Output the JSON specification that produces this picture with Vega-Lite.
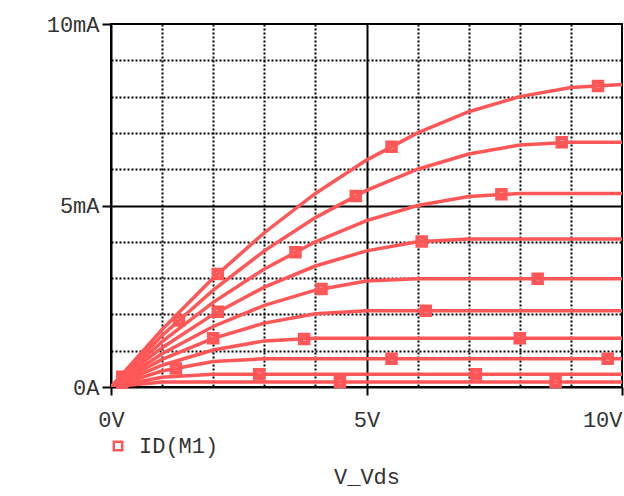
{
  "$schema": "https://vega.github.io/schema/vega-lite/v6.json",
  "width": 511,
  "height": 363,
  "autosize": {"type": "none"},
  "padding": {"left": 111, "top": 24, "right": 2, "bottom": 109},
  "background": "white",
  "config": {
    "view": {"stroke": "black", "strokeWidth": 2},
    "font": "Liberation Mono"
  },
  "datasets": {
    "curves": [
      {"vgs": 10, "vds": 0, "id": 0}, {"vgs": 10, "vds": 1, "id": 1.583}, {"vgs": 10, "vds": 2, "id": 3.0}, {"vgs": 10, "vds": 3, "id": 4.25}, {"vgs": 10, "vds": 4, "id": 5.333}, {"vgs": 10, "vds": 5, "id": 6.25}, {"vgs": 10, "vds": 6, "id": 7.0}, {"vgs": 10, "vds": 7, "id": 7.583}, {"vgs": 10, "vds": 8, "id": 8.0}, {"vgs": 10, "vds": 9, "id": 8.25}, {"vgs": 10, "vds": 10, "id": 8.33},
      {"vgs": 9, "vds": 0, "id": 0}, {"vgs": 9, "vds": 1, "id": 1.417}, {"vgs": 9, "vds": 2, "id": 2.667}, {"vgs": 9, "vds": 3, "id": 3.75}, {"vgs": 9, "vds": 4, "id": 4.667}, {"vgs": 9, "vds": 5, "id": 5.417}, {"vgs": 9, "vds": 6, "id": 6.0}, {"vgs": 9, "vds": 7, "id": 6.417}, {"vgs": 9, "vds": 8, "id": 6.667}, {"vgs": 9, "vds": 9, "id": 6.74}, {"vgs": 9, "vds": 10, "id": 6.74},
      {"vgs": 8, "vds": 0, "id": 0}, {"vgs": 8, "vds": 1, "id": 1.25}, {"vgs": 8, "vds": 2, "id": 2.333}, {"vgs": 8, "vds": 3, "id": 3.25}, {"vgs": 8, "vds": 4, "id": 4.0}, {"vgs": 8, "vds": 5, "id": 4.583}, {"vgs": 8, "vds": 6, "id": 5.0}, {"vgs": 8, "vds": 7, "id": 5.25}, {"vgs": 8, "vds": 8, "id": 5.33}, {"vgs": 8, "vds": 10, "id": 5.33},
      {"vgs": 7, "vds": 0, "id": 0}, {"vgs": 7, "vds": 1, "id": 1.083}, {"vgs": 7, "vds": 2, "id": 2.0}, {"vgs": 7, "vds": 3, "id": 2.75}, {"vgs": 7, "vds": 4, "id": 3.333}, {"vgs": 7, "vds": 5, "id": 3.75}, {"vgs": 7, "vds": 6, "id": 4.0}, {"vgs": 7, "vds": 7, "id": 4.08}, {"vgs": 7, "vds": 10, "id": 4.08},
      {"vgs": 6, "vds": 0, "id": 0}, {"vgs": 6, "vds": 1, "id": 0.917}, {"vgs": 6, "vds": 2, "id": 1.667}, {"vgs": 6, "vds": 3, "id": 2.25}, {"vgs": 6, "vds": 4, "id": 2.667}, {"vgs": 6, "vds": 5, "id": 2.917}, {"vgs": 6, "vds": 6, "id": 2.98}, {"vgs": 6, "vds": 10, "id": 2.98},
      {"vgs": 5, "vds": 0, "id": 0}, {"vgs": 5, "vds": 1, "id": 0.76}, {"vgs": 5, "vds": 2, "id": 1.34}, {"vgs": 5, "vds": 3, "id": 1.76}, {"vgs": 5, "vds": 4, "id": 2.02}, {"vgs": 5, "vds": 5, "id": 2.1}, {"vgs": 5, "vds": 10, "id": 2.1},
      {"vgs": 4, "vds": 0, "id": 0}, {"vgs": 4, "vds": 1, "id": 0.6}, {"vgs": 4, "vds": 2, "id": 1.02}, {"vgs": 4, "vds": 3, "id": 1.27}, {"vgs": 4, "vds": 4, "id": 1.34}, {"vgs": 4, "vds": 10, "id": 1.34},
      {"vgs": 3, "vds": 0, "id": 0}, {"vgs": 3, "vds": 1, "id": 0.44}, {"vgs": 3, "vds": 2, "id": 0.7}, {"vgs": 3, "vds": 3, "id": 0.78}, {"vgs": 3, "vds": 10, "id": 0.78},
      {"vgs": 2, "vds": 0, "id": 0}, {"vgs": 2, "vds": 1, "id": 0.27}, {"vgs": 2, "vds": 2, "id": 0.35}, {"vgs": 2, "vds": 10, "id": 0.35},
      {"vgs": 1, "vds": 0, "id": 0}, {"vgs": 1, "vds": 1, "id": 0.14}, {"vgs": 1, "vds": 10, "id": 0.14}
    ],
    "markers": [
      {"vds": 2.09, "id": 3.11}, {"vds": 5.49, "id": 6.62}, {"vds": 9.53, "id": 8.29},
      {"vds": 1.33, "id": 1.83}, {"vds": 4.79, "id": 5.26}, {"vds": 8.82, "id": 6.74},
      {"vds": 0.22, "id": 0.28}, {"vds": 3.61, "id": 3.71}, {"vds": 7.64, "id": 5.31},
      {"vds": 2.09, "id": 2.07}, {"vds": 6.08, "id": 4.01},
      {"vds": 4.12, "id": 2.7}, {"vds": 8.35, "id": 2.98},
      {"vds": 2.0, "id": 1.34}, {"vds": 6.16, "id": 2.1},
      {"vds": 0.22, "id": 0.12}, {"vds": 3.78, "id": 1.32}, {"vds": 8.0, "id": 1.34},
      {"vds": 1.27, "id": 0.51}, {"vds": 5.49, "id": 0.78}, {"vds": 9.72, "id": 0.78},
      {"vds": 2.9, "id": 0.35}, {"vds": 7.14, "id": 0.35},
      {"vds": 4.48, "id": 0.14}, {"vds": 8.7, "id": 0.14}
    ]
  },
  "encoding": {
    "x": {
      "field": "vds", "type": "quantitative",
      "scale": {"domain": [0, 10], "nice": false, "zero": false},
      "axis": {
        "values": [0, 1, 2, 3, 4, 5, 6, 7, 8, 9, 10],
        "labelExpr": "datum.value % 5 === 0 ? datum.value + 'V' : ''",
        "labelOverlap": false,
        "labelBound": false,
        "labelFlush": false,
        "labelAlign": {"condition": {"test": "datum.value === 10", "value": "right"}, "value": "center"},
        "labelFont": "Liberation Mono", "labelFontSize": 22, "labelColor": "#333333",
        "labelPadding": 14,
        "title": "V_Vds",
        "titleFont": "Liberation Mono", "titleFontSize": 22, "titleFontWeight": "normal", "titleColor": "#333333",
        "titlePadding": 36,
        "domainColor": "black", "domainWidth": 2,
        "tickColor": "black", "tickWidth": 2, "tickSize": 8,
        "tickOpacity": {"condition": {"test": "datum.value % 5 === 0", "value": 1}, "value": 0},
        "grid": true, "gridColor": "black",
        "gridOpacity": {"condition": {"test": "datum.value === 0 || datum.value === 10", "value": 0}, "value": 1},
        "gridWidth": 2,
        "gridDash": {"condition": {"test": "datum.value === 5", "value": []}, "value": [2, 2]}
      }
    },
    "y": {
      "field": "id", "type": "quantitative",
      "scale": {"domain": [0, 10], "nice": false},
      "axis": {
        "values": [0, 1, 2, 3, 4, 5, 6, 7, 8, 9, 10],
        "labelExpr": "datum.value === 0 ? '0A' : (datum.value % 5 === 0 ? datum.value + 'mA' : '')",
        "labelOverlap": false,
        "labelBound": false,
        "labelFlush": false,
        "labelFont": "Liberation Mono", "labelFontSize": 22, "labelColor": "#333333",
        "labelPadding": 3,
        "title": null,
        "domainColor": "black", "domainWidth": 2,
        "tickColor": "black", "tickWidth": 2, "tickSize": 9,
        "tickOpacity": {"condition": {"test": "datum.value % 5 === 0", "value": 1}, "value": 0},
        "grid": true, "gridColor": "black",
        "gridOpacity": {"condition": {"test": "datum.value === 0 || datum.value === 10", "value": 0}, "value": 1},
        "gridWidth": 2,
        "gridDash": {"condition": {"test": "datum.value === 5", "value": []}, "value": [2, 2]}
      }
    },
    "color": {
      "datum": "ID(M1)",
      "scale": {"range": ["#ff5757"]},
      "legend": {
        "title": null,
        "orient": "none",
        "legendX": -4,
        "legendY": 411,
        "padding": 0,
        "symbolType": "square",
        "symbolSize": 70,
        "symbolStrokeWidth": 2.5,
        "symbolFillColor": "white",
        "symbolStrokeColor": "#ff5757",
        "labelFont": "Liberation Mono",
        "labelFontSize": 22,
        "labelColor": "#333333",
        "labelOffset": 10
      }
    }
  },
  "layer": [
    {
      "data": {"name": "curves"},
      "mark": {"type": "line", "strokeWidth": 3.5, "clip": true},
      "encoding": {
        "detail": {"field": "vgs", "type": "nominal"}
      }
    },
    {
      "data": {"name": "markers"},
      "mark": {"type": "point", "shape": "square", "filled": false, "size": 64, "strokeWidth": 4.5, "opacity": 1}
    }
  ]
}
